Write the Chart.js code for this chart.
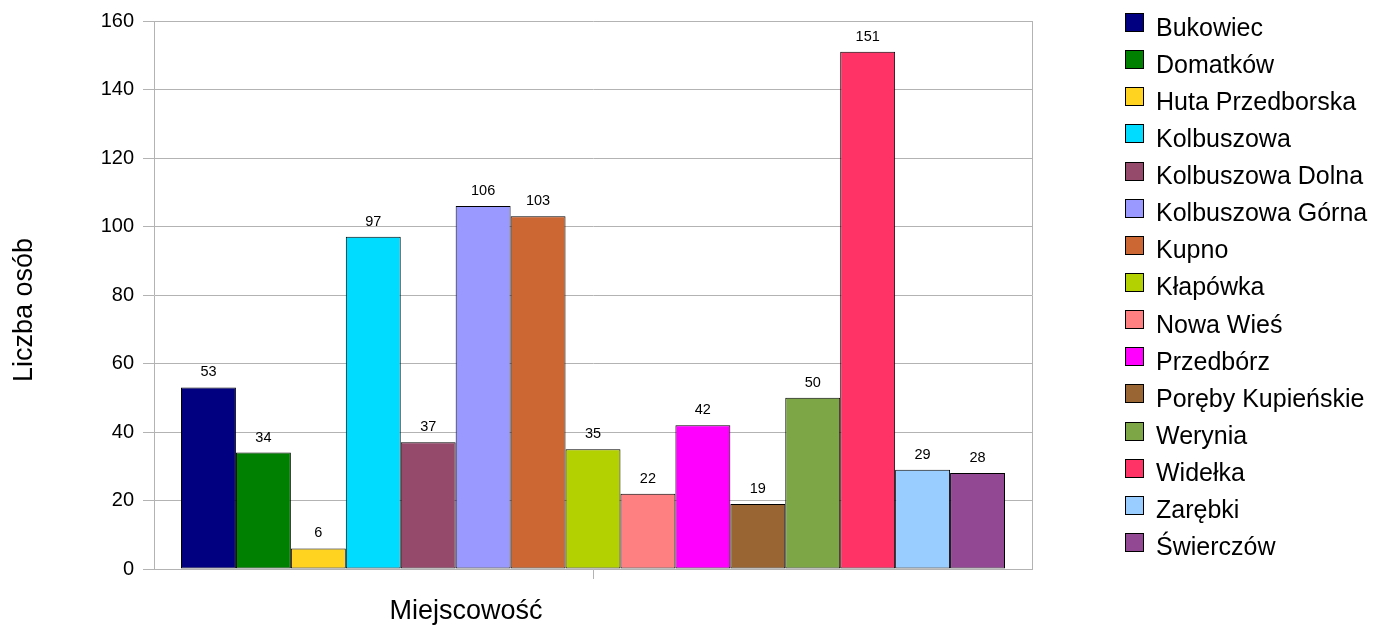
<!DOCTYPE html>
<html>
<head>
<meta charset="utf-8">
<script src="https://cdn.jsdelivr.net/npm/chart.js@4/dist/chart.umd.min.js"></script>
<style>
  html, body { margin: 0; padding: 0; background: #ffffff; }
  #wrap { position: relative; width: 1374px; height: 625px; }
  #overlay { position: absolute; left: 0; top: 0; width: 1374px; height: 625px; pointer-events: none; }
  .lg-box { position: absolute; width: 17px; height: 17px; border: 1px solid #000; }
  .lg-text { position: absolute; font-family: "Liberation Sans", Arial, sans-serif; font-size: 25px; line-height: 25px; color: #000; white-space: nowrap; }
  .ax-title { position: absolute; font-family: "Liberation Sans", Arial, sans-serif; font-size: 27px; line-height: 27px; color: #000; white-space: nowrap; }
</style>
</head>
<body>
<div id="wrap">
  <canvas id="c"></canvas>
  <div id="overlay"></div>
</div>
<script>
// ---- data ----
const categories = [''];
const xTitle = 'Miejscowość';
const yTitle = 'Liczba osób';
const places = [
  'Bukowiec', 'Domatków', 'Huta Przedborska', 'Kolbuszowa', 'Kolbuszowa Dolna',
  'Kolbuszowa Górna', 'Kupno', 'Kłapówka', 'Nowa Wieś', 'Przedbórz',
  'Poręby Kupieńskie', 'Werynia', 'Widełka', 'Zarębki', 'Świerczów'
];
const counts = [53, 34, 6, 97, 37, 106, 103, 35, 22, 42, 19, 50, 151, 29, 28];
const colors = [
  '#000080', '#008000', '#ffd320', '#00dcff', '#964a6b',
  '#9999ff', '#cc6633', '#b3d100', '#ff8080', '#ff00ff',
  '#996633', '#7da647', '#ff3366', '#99ccff', '#924893'
];
const yTicks = { min: 0, max: 160, step: 20 };

// ---- chart ----
const FONT = '"Liberation Sans", Arial, sans-serif';

const datasets = places.map((name, i) => ({
  label: name,
  data: [counts[i]],
  backgroundColor: colors[i],
  borderColor: '#000000',
  borderWidth: 1,
  borderSkipped: false,
  categoryPercentage: 0.9385,
  barPercentage: 1.0
}));

const valueLabels = {
  id: 'valueLabels',
  afterDatasetsDraw(chart) {
    const ctx = chart.ctx;
    ctx.save();
    ctx.font = '14.5px ' + FONT;
    ctx.fillStyle = '#000';
    ctx.textAlign = 'center';
    ctx.textBaseline = 'alphabetic';
    chart.data.datasets.forEach((ds, i) => {
      const meta = chart.getDatasetMeta(i);
      meta.data.forEach((bar, j) => {
        ctx.fillText(String(ds.data[j]), bar.x, bar.y - 11);
      });
    });
    ctx.restore();
  }
};

const chart = new Chart(document.getElementById('c'), {
  type: 'bar',
  data: { labels: categories, datasets },
  options: {
    responsive: true,
    maintainAspectRatio: false,
    animation: false,
    layout: { padding: { top: 21, right: 342, bottom: 0, left: 0 } },
    plugins: {
      legend: { display: false },
      tooltip: { enabled: false }
    },
    scales: {
      x: {
        grid: { display: true, offset: false, drawOnChartArea: false, drawTicks: true, tickLength: 10, color: '#b3b3b3' },
        border: { display: true, color: '#b3b3b3' },
        ticks: { display: false },
        title: { display: false, text: xTitle },
        afterFit(scale) { scale.height = 56; }
      },
      y: {
        min: yTicks.min, max: yTicks.max,
        ticks: { stepSize: yTicks.step, color: '#000', font: { family: FONT, size: 20 }, padding: 9 },
        grid: { color: '#b3b3b3', tickLength: 11, drawTicks: true },
        border: { display: true, color: '#b3b3b3' },
        title: { display: false, text: yTitle },
        afterFit(scale) { scale.width = 154; }
      },
      y2: {
        position: 'right',
        display: true,
        ticks: { display: false },
        grid: { drawOnChartArea: false, drawTicks: false },
        border: { display: true, color: '#b3b3b3' },
        afterFit(scale) { scale.width = 0; }
      }
    }
  },
  plugins: [valueLabels]
});

// ---- axis titles and legend (HTML text) ----
const overlay = document.getElementById('overlay');

const xt = document.createElement('div');
xt.className = 'ax-title';
xt.textContent = xTitle;
xt.style.left = '466px';
xt.style.top = '610px';
xt.style.transform = 'translate(-50%, -50%)';
overlay.appendChild(xt);

const yt = document.createElement('div');
yt.className = 'ax-title';
yt.textContent = yTitle;
yt.style.left = '22.5px';
yt.style.top = '310px';
yt.style.transform = 'translate(-50%, -50%) rotate(-90deg)';
overlay.appendChild(yt);

const rowStep = 37.14;
places.forEach((name, i) => {
  const top = 13 + i * rowStep;
  const box = document.createElement('div');
  box.className = 'lg-box';
  box.style.left = '1125px';
  box.style.top = top + 'px';
  box.style.background = colors[i];
  overlay.appendChild(box);
  const t = document.createElement('div');
  t.className = 'lg-text';
  t.style.left = '1156px';
  t.style.top = (top + 1.5) + 'px';
  t.textContent = name;
  overlay.appendChild(t);
});
</script>
</body>
</html>
